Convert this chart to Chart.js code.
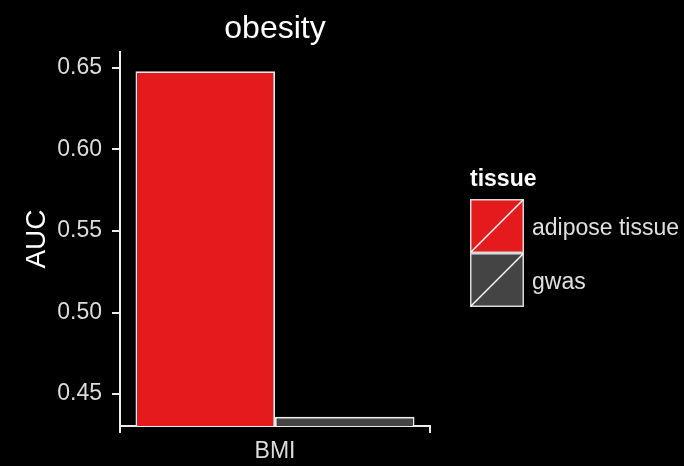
<!DOCTYPE html>
<html>
<head>
<meta charset="utf-8">
<script src="https://cdn.jsdelivr.net/npm/chart.js@4/dist/chart.umd.min.js"></script>
<style>
  html, body { margin: 0; padding: 0; background: #000; }
  #wrap { width: 684px; height: 466px; }
</style>
</head>
<body>
<div id="wrap"><canvas id="c" width="684" height="466"></canvas></div>
<script>
// Data
const categories = ['BMI'];
const seriesNames = ['adipose tissue', 'gwas'];
const adiposeValues = [0.648];
const gwasValues = [0.436];
const yTicks = [0.45, 0.50, 0.55, 0.60, 0.65];
const chartTitle = 'obesity';
const yTitle = 'AUC';
const legendTitle = 'tissue';

const colors = ['#e41a1c', '#444444'];
const fontFamily = '"Liberation Sans", Arial, Helvetica, sans-serif';

// Title centred over the plotting panel
const panelTitle = {
  id: 'panelTitle',
  afterDraw(chart) {
    const { ctx, chartArea } = chart;
    ctx.save();
    ctx.fillStyle = '#ffffff';
    ctx.font = '32px ' + fontFamily;
    ctx.textAlign = 'center';
    ctx.textBaseline = 'alphabetic';
    ctx.fillText(chartTitle, (chartArea.left + chartArea.right) / 2, 38);
    ctx.restore();
  }
};

// Legend with filled keys crossed by a diagonal, drawn next to the plot
const keyLegend = {
  id: 'keyLegend',
  afterDraw(chart) {
    const ctx = chart.ctx;
    const x0 = 470, y0 = 199, size = 54;
    ctx.save();
    ctx.fillStyle = '#ffffff';
    ctx.font = 'bold 23px ' + fontFamily;
    ctx.textBaseline = 'alphabetic';
    ctx.textAlign = 'left';
    ctx.fillText(legendTitle, x0, 186);
    chart.data.datasets.forEach((ds, i) => {
      const y = y0 + i * size;
      ctx.fillStyle = ds.backgroundColor;
      ctx.fillRect(x0, y, size, size);
      ctx.strokeStyle = '#d9d9d9';
      ctx.lineWidth = 1.5;
      ctx.strokeRect(x0 + 0.75, y + 0.75, size - 1.5, size - 1.5);
      ctx.strokeStyle = '#ffffff';
      ctx.beginPath();
      ctx.moveTo(x0 + 1, y + size - 1);
      ctx.lineTo(x0 + size - 1, y + 1);
      ctx.stroke();
      ctx.fillStyle = '#e0e0e0';
      ctx.font = '23px ' + fontFamily;
      ctx.textBaseline = 'middle';
      ctx.fillText(ds.label, x0 + 62, y + size / 2 + 2.5);
    });
    ctx.restore();
  }
};

new Chart(document.getElementById('c'), {
  type: 'bar',
  data: {
    labels: categories,
    datasets: [
      { label: seriesNames[0], data: adiposeValues, backgroundColor: colors[0] },
      { label: seriesNames[1], data: gwasValues, backgroundColor: colors[1] }
    ]
  },
  options: {
    responsive: false,
    animation: false,
    layout: { padding: { left: 0, right: 254, top: 52, bottom: 0 } },
    datasets: {
      bar: {
        categoryPercentage: 0.9,
        barPercentage: 1.0,
        borderColor: '#ececec',
        borderWidth: 1.8,
        borderSkipped: false
      }
    },
    plugins: {
      legend: { display: false },
      tooltip: { enabled: false },
      title: { display: false }
    },
    scales: {
      x: {
        grid: { display: true, drawOnChartArea: false, drawTicks: true, tickLength: 7, color: '#ececec', lineWidth: 2 },
        border: { display: true, color: '#ececec', width: 2 },
        ticks: { color: '#dcdcdc', font: { family: fontFamily, size: 23 }, padding: 5 },
        afterFit(scale) { scale.height = 40; }
      },
      y: {
        min: 0.4304,
        max: 0.6598,
        afterBuildTicks(scale) { scale.ticks = yTicks.map(v => ({ value: v })); },
        grid: { display: true, drawOnChartArea: false, drawTicks: true, tickLength: 8, color: '#ececec', lineWidth: 2 },
        border: { display: true, color: '#ececec', width: 2 },
        ticks: {
          color: '#dcdcdc',
          font: { family: fontFamily, size: 23 },
          padding: 10,
          callback: v => v.toFixed(2)
        },
        title: {
          display: true,
          text: yTitle,
          color: '#ffffff',
          font: { family: fontFamily, size: 28 },
          padding: { top: 20, bottom: 0 }
        },
        afterFit(scale) { scale.width = 120; }
      }
    }
  },
  plugins: [panelTitle, keyLegend]
});
</script>
</body>
</html>
